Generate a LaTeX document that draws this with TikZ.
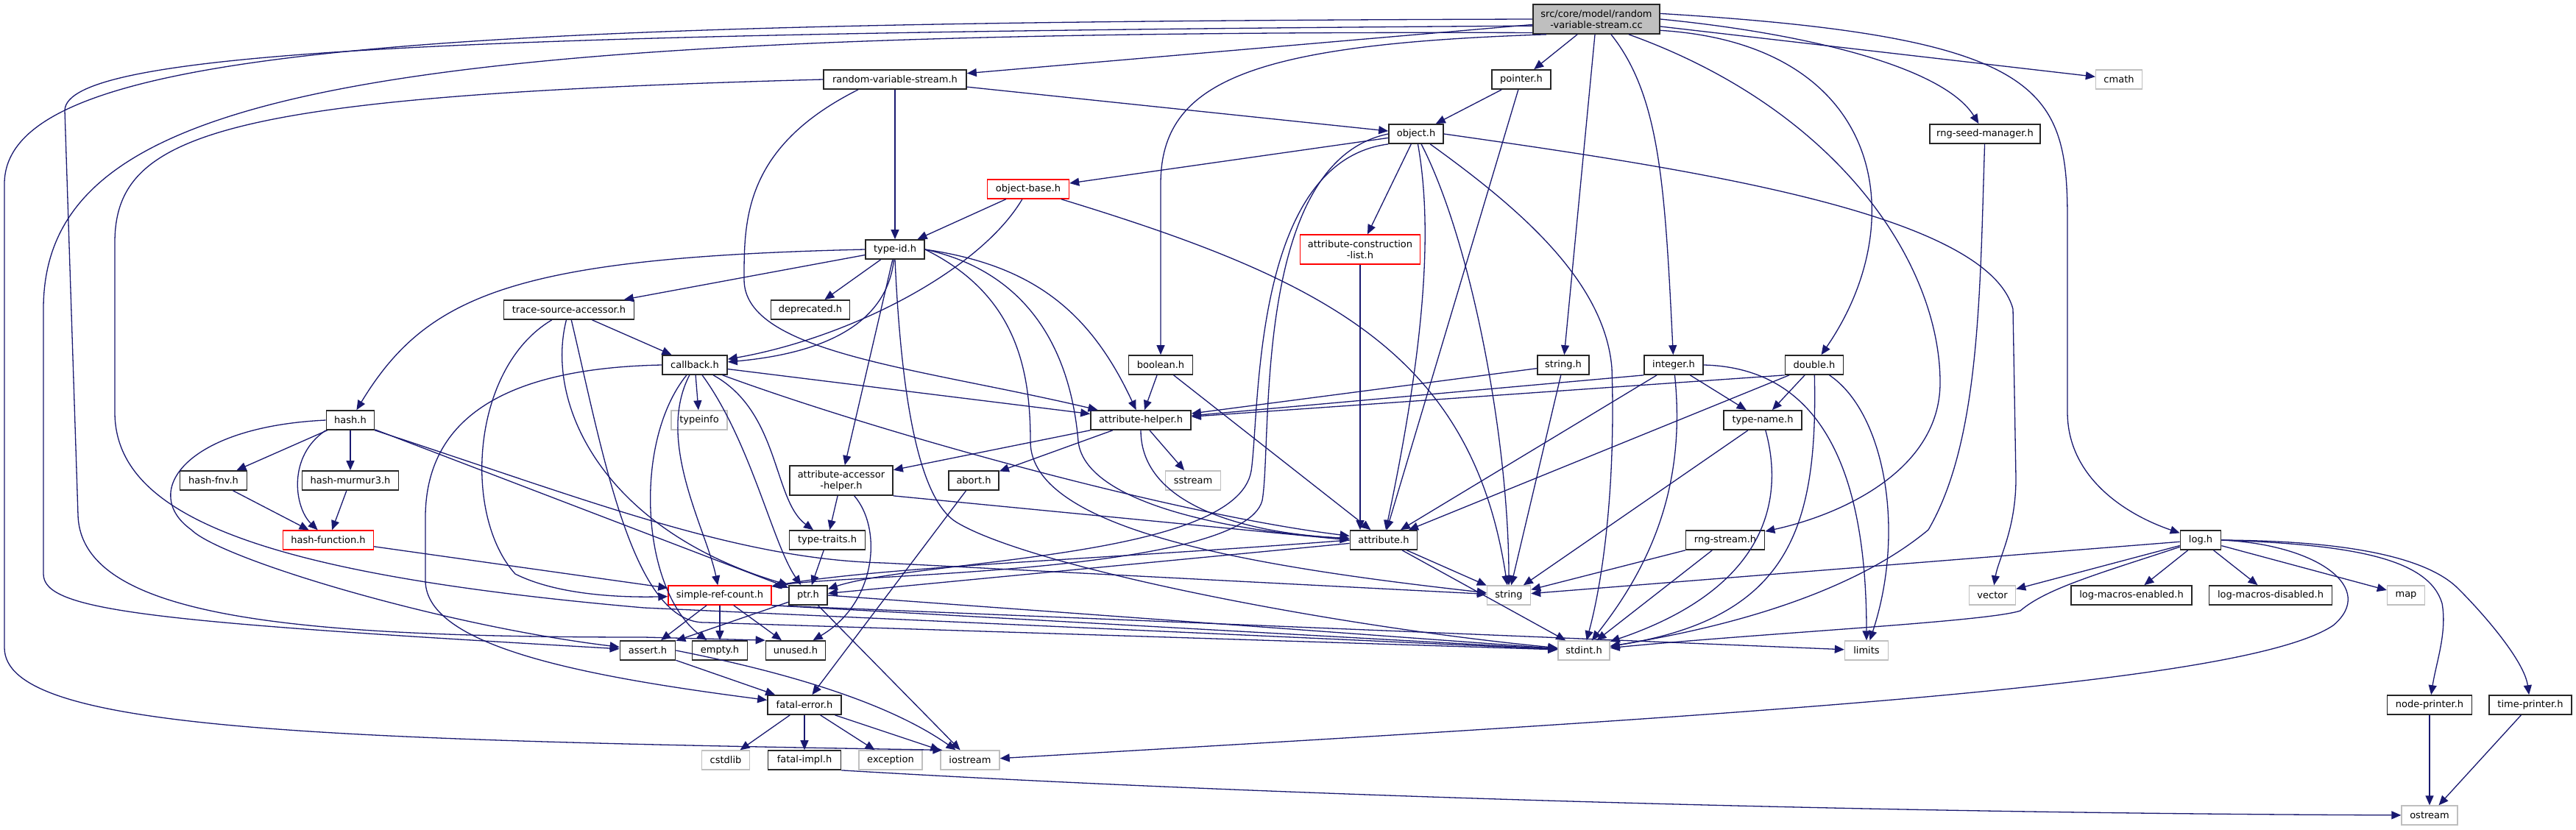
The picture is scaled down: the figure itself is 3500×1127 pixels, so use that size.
\documentclass[tikz,border=0pt]{standalone}
\usepackage{fontspec}
\setmainfont{DejaVu Sans}
\usetikzlibrary{arrows.meta,shapes}
\definecolor{EdgeBlue}{RGB}{25,25,112}
\definecolor{SysGray}{RGB}{191,191,191}
\definecolor{RootGray}{RGB}{191,191,191}
\definecolor{TruncRed}{RGB}{255,0,0}
\newcommand{\depfont}{\fontsize{13}{15}\selectfont}
\tikzset{
  hbox/.style={draw=black!85,fill=white,rectangle,minimum height=26pt,inner sep=0pt,
               font=\depfont,align=center,line width=1.7pt},
  sbox/.style={hbox,draw=SysGray,line width=1.4pt},
  rbox/.style={hbox,draw=TruncRed,line width=1.4pt},
  rootbox/.style={hbox,fill=RootGray,minimum height=40pt},
  incl/.style={-{Triangle[length=13pt,width=11pt]},EdgeBlue,line width=1.3pt},
}

\begin{document}
\begin{tikzpicture}[x=1pt,y=-1pt]
    \path[use as bounding box,fill=white] (0,0) rectangle (3500,1127);

    % Node definitions
    \node[rootbox, minimum width=172pt] (root) at (2169,26) {src/core/model/random\\-variable-stream.cc};
    \node[hbox, minimum width=194pt] (rvsh) at (1216,108) {random-variable-stream.h};
    \node[hbox, minimum width=80pt] (pointer) at (2067,108) {pointer.h};
    \node[sbox, minimum width=63pt] (cmath) at (2879,108) {cmath};
    \node[hbox, minimum width=74pt] (object) at (1924,182) {object.h};
    \node[hbox, minimum width=150pt] (rngseed) at (2697,182) {rng-seed-manager.h};
    \node[rbox, minimum width=111pt] (objbase) at (1397,257) {object-base.h};
    \node[rbox, minimum width=163pt, minimum height=40pt] (attrcons) at (1848,339) {attribute-construction\\-list.h};
    \node[hbox, minimum width=80pt] (typeid) at (1216,339) {type-id.h};
    \node[hbox, minimum width=177pt] (trace) at (773,421) {trace-source-accessor.h};
    \node[hbox, minimum width=107pt] (deprec) at (1101,421) {deprecated.h};
    \node[hbox, minimum width=88pt] (callback) at (944,496) {callback.h};
    \node[hbox, minimum width=87pt] (boolean) at (1577,496) {boolean.h};
    \node[hbox, minimum width=70pt] (stringh) at (2124,496) {string.h};
    \node[hbox, minimum width=80pt] (integer) at (2274,496) {integer.h};
    \node[hbox, minimum width=79pt] (double) at (2465,496) {double.h};
    \node[hbox, minimum width=65pt] (hash) at (476,571) {hash.h};
    \node[sbox, minimum width=76pt] (typeinfo) at (950,571) {typeinfo};
    \node[hbox, minimum width=136pt] (attrhelp) at (1550,571) {attribute-helper.h};
    \node[hbox, minimum width=106pt] (typename) at (2395,571) {type-name.h};
    \node[hbox, minimum width=91pt] (hashfnv) at (290,653) {hash-fnv.h};
    \node[hbox, minimum width=131pt] (murmur) at (476,653) {hash-murmur3.h};
    \node[hbox, minimum width=140pt, minimum height=40pt] (accessor) at (1143,653) {attribute-accessor\\-helper.h};
    \node[hbox, minimum width=68pt] (abort) at (1323,653) {abort.h};
    \node[sbox, minimum width=75pt] (sstream) at (1621,653) {sstream};
    \node[rbox, minimum width=123pt] (hashfunc) at (446,734) {hash-function.h};
    \node[hbox, minimum width=103pt] (typetraits) at (1124,734) {type-traits.h};
    \node[hbox, minimum width=91pt] (attribute) at (1880,734) {attribute.h};
    \node[hbox, minimum width=107pt] (rngstream) at (2344,734) {rng-stream.h};
    \node[hbox, minimum width=55pt] (log) at (2990,734) {log.h};
    \node[rbox, minimum width=140pt] (simpleref) at (978,809) {simple-ref-count.h};
    \node[hbox, minimum width=52pt] (ptr) at (1098,809) {ptr.h};
    \node[sbox, minimum width=59pt] (string) at (2050,809) {string};
    \node[sbox, minimum width=63pt] (vector) at (2707,809) {vector};
    \node[hbox, minimum width=164pt] (lme) at (2896,809) {log-macros-enabled.h};
    \node[hbox, minimum width=167pt] (lmd) at (3085,809) {log-macros-disabled.h};
    \node[sbox, minimum width=51pt] (map) at (3269,809) {map};
    \node[hbox, minimum width=75pt] (assert) at (880,884) {assert.h};
    \node[hbox, minimum width=75pt] (empty) at (978,884) {empty.h};
    \node[hbox, minimum width=81pt] (unused) at (1081,884) {unused.h};
    \node[sbox, minimum width=70pt] (stdint) at (2152,884) {stdint.h};
    \node[sbox, minimum width=59pt] (limits) at (2536,884) {limits};
    \node[hbox, minimum width=100pt] (fatalerr) at (1093,958) {fatal-error.h};
    \node[hbox, minimum width=115pt] (nodeprint) at (3301,958) {node-printer.h};
    \node[hbox, minimum width=112pt] (timeprint) at (3438,958) {time-printer.h};
    \node[sbox, minimum width=65pt] (cstdlib) at (986,1033) {cstdlib};
    \node[hbox, minimum width=99pt] (fatalimpl) at (1093,1033) {fatal-impl.h};
    \node[sbox, minimum width=86pt] (exception) at (1210,1033) {exception};
    \node[sbox, minimum width=80pt] (iostream) at (1318,1033) {iostream};
    \node[sbox, minimum width=76pt] (ostream) at (3301,1108) {ostream};

    % Edges: random-variable-stream.cc
    \draw[incl] (root) -- (rvsh);
    \draw[incl] (root) -- (pointer);
    \draw[incl] (root) -- (cmath);
    \draw[incl] (root.east) .. controls (2450,45) and (2640,90) .. (rngseed);
    \draw[incl] (root.197) .. controls (1700,60) and (1577,110) .. (1577,250) -- (boolean);
    \draw[incl] (root) -- (stringh);
    \draw[incl] ([xshift=20pt]root.south) .. controls (2255,130) and (2262,250) .. (integer);
    \draw[incl] (root.350) .. controls (2560,60) and (2600,300) .. (double);
    \draw[incl] (root.5) .. controls (2780,50) and (2809,120) .. (2809,300) -- (2809,560)
                .. controls (2809,650) and (2890,700) .. (log);
    \draw[incl] ([xshift=44pt]root.south) .. controls (2500,150) and (2636,360) .. (2636,520)
                .. controls (2636,640) and (2500,700) .. (rngstream);
    \draw[incl] (root.west) .. controls (600,30) and (6,60) .. (6,250) -- (6,880)
                .. controls (6,990) and (400,1005) .. (iostream.160);
    \draw[incl] (root.186) .. controls (600,45) and (90,70) .. (88,150) -- (106,700)
                .. controls (110,840) and (400,866) .. (875,866) -- (unused.north west);
    \draw[incl] (root.192) .. controls (500,40) and (59,120) .. (59,420) -- (59,780)
                .. controls (59,830) and (200,845) .. (assert);

    % Edges: random-variable-stream.h
    \draw[incl] (rvsh) -- (object);
    \draw[incl] (rvsh) -- (typeid);
    \draw[incl] ([xshift=-50pt]rvsh.south) .. controls (1010,200) and (1011,300) .. (1011,380)
                .. controls (1011,480) and (1250,500) .. (attrhelp);
    \draw[incl] (rvsh.west) .. controls (300,130) and (156,180) .. (156,330) -- (156,560)
                .. controls (156,700) and (350,780) .. (875,826) -- (stdint);

    % Edges: pointer.h, object.h, object-base.h
    \draw[incl] (pointer) -- (object);
    \draw[incl] (pointer) -- (attribute);
    \draw[incl] (object) -- (objbase);
    \draw[incl] (object) -- (attrcons);
    \draw[incl] (object) .. controls (1945,300) and (1940,450) .. (attribute);
    \draw[incl] (object) .. controls (2000,330) and (2050,600) .. (string);
    \draw[incl] (object) .. controls (2060,280) and (2180,380) .. (2190,500)
                .. controls (2195,650) and (2180,780) .. (stdint);
    \draw[incl] (object.east) .. controls (2300,230) and (2700,290) .. (2735,420) -- (2739,650)
                .. controls (2739,720) and (2715,760) .. (vector);
    \draw[incl] (object.south west) .. controls (1700,220) and (1712,560) .. (1700,640)
                .. controls (1680,760) and (1250,760) .. (ptr);
    \draw[incl] (object.west) .. controls (1700,220) and (1729,600) .. (1715,680)
                .. controls (1690,780) and (1150,780) .. (simpleref);
    \draw[incl] (objbase) -- (typeid);
    \draw[incl] (objbase) .. controls (1330,370) and (1150,460) .. (callback);
    \draw[incl] (objbase) .. controls (1800,380) and (2000,480) .. (string);
    \draw[incl] (attrcons.south) -- (attrcons.south |- attribute.north);

    % Edges: type-id.h
    \draw[incl] (typeid) -- (trace);
    \draw[incl] (typeid.west) .. controls (700,350) and (580,400) .. (hash);
    \draw[incl] (typeid) -- (deprec);
    \draw[incl] (typeid) .. controls (1205,440) and (1120,480) .. (callback);
    \draw[incl] (typeid) -- (accessor);
    \draw[incl] (typeid.east) .. controls (1400,360) and (1480,420) .. (attrhelp);
    \draw[incl] (typeid.east) .. controls (1400,370) and (1455,480) .. (1465,600)
                .. controls (1475,690) and (1700,725) .. (attribute);
    \draw[incl] (typeid.east) .. controls (1380,400) and (1400,500) .. (1400,600)
                .. controls (1400,720) and (1700,770) .. (string);
    \draw[incl] (typeid.south) .. controls (1225,550) and (1250,680) .. (1300,710)
                .. controls (1400,770) and (1800,850) .. (stdint);

    % Edges: trace-source-accessor.h, callback.h
    \draw[incl] (trace) -- (callback);
    \draw[incl] (trace) .. controls (640,500) and (628,700) .. (700,780)
                .. controls (760,810) and (850,812) .. (simpleref);
    \draw[incl] (trace) .. controls (740,550) and (820,720) .. (ptr.north west);
    \draw[incl] (trace) .. controls (820,620) and (860,850) .. (960,846) -- (stdint);
    \draw[incl] (callback) -- (typeinfo);
    \draw[incl] (callback) -- (attrhelp);
    \draw[incl] (callback) .. controls (1200,590) and (1600,700) .. (attribute);
    \draw[incl] (callback) .. controls (1060,560) and (1050,680) .. (typetraits);
    \draw[incl] (callback) .. controls (1020,600) and (1050,740) .. (ptr);
    \draw[incl] (callback) .. controls (890,600) and (960,720) .. (simpleref);
    \draw[incl] (callback) .. controls (860,600) and (870,800) .. (empty);
    \draw[incl] (callback.west) .. controls (700,500) and (580,560) .. (578,700) -- (578,790)
                .. controls (580,880) and (800,920) .. (fatalerr);

    % Edges: hash headers
    \draw[incl] (hash) -- (hashfnv);
    \draw[incl] (hash) -- (murmur);
    \draw[incl] (hash.south west) .. controls (390,620) and (400,690) .. (hashfunc);
    \draw[incl] (hash.west) .. controls (250,580) and (190,670) .. (260,720)
                .. controls (300,760) and (600,850) .. (assert);
    \draw[incl] (hash) -- (ptr);
    \draw[incl] (hash.south east) .. controls (800,680) and (1000,760) .. (1200,765) -- (string);
    \draw[incl] (hashfnv) -- (hashfunc);
    \draw[incl] (murmur) -- (hashfunc);
    \draw[incl] (hashfunc) -- (simpleref);

    % Edges: boolean.h, string.h, integer.h, double.h, type-name.h
    \draw[incl] (boolean) -- (attrhelp);
    \draw[incl] (boolean) -- (attribute);
    \draw[incl] (stringh) -- (attrhelp);
    \draw[incl] (stringh) -- (string);
    \draw[incl] (integer.south west) -- (attrhelp);
    \draw[incl] (integer) -- (attribute);
    \draw[incl] (integer) -- (typename);
    \draw[incl] (integer) .. controls (2290,650) and (2250,760) .. (stdint);
    \draw[incl] (integer.east) .. controls (2480,500) and (2536,650) .. (limits);
    \draw[incl] (double.south west) -- (attrhelp);
    \draw[incl] (double) -- (attribute);
    \draw[incl] (double) -- (typename);
    \draw[incl] (double) .. controls (2470,720) and (2430,840) .. (stdint);
    \draw[incl] (double) .. controls (2560,560) and (2590,720) .. (limits);
    \draw[incl] (typename) -- (string);
    \draw[incl] (typename) .. controls (2425,680) and (2400,800) .. (stdint);

    % Edges: attribute headers
    \draw[incl] (attrhelp) -- (accessor);
    \draw[incl] (attrhelp) -- (abort);
    \draw[incl] (attrhelp) -- (sstream);
    \draw[incl] (attrhelp) .. controls (1550,690) and (1700,725) .. (attribute);
    \draw[incl] (accessor) -- (typetraits);
    \draw[incl] (accessor.south east) -- (attribute.west);
    \draw[incl] (accessor) .. controls (1200,720) and (1190,820) .. (unused);
    \draw[incl] (abort) -- (fatalerr);
    \draw[incl] (typetraits) -- (ptr);
    \draw[incl] (attribute) -- (string);
    \draw[incl] (attribute) -- (stdint);
    \draw[incl] (attribute) -- (ptr);
    \draw[incl] (attribute.west) .. controls (1500,760) and (1200,770) .. (simpleref);

    % Edges: rng headers
    \draw[incl] (rngseed) .. controls (2690,400) and (2690,600) .. (2620,720)
                .. controls (2500,820) and (2300,860) .. (stdint);
    \draw[incl] (rngstream) -- (string);
    \draw[incl] (rngstream) -- (stdint);

    % Edges: log.h
    \draw[incl] (log) -- (string);
    \draw[incl] (log) -- (vector);
    \draw[incl] (log) .. controls (2850,780) and (2780,800) .. (2745,830)
                .. controls (2700,845) and (2400,860) .. (stdint);
    \draw[incl] (log) -- (lme);
    \draw[incl] (log) -- (lmd);
    \draw[incl] (log) -- (map);
    \draw[incl] (log.east) .. controls (3200,740) and (3300,760) .. (3318,820)
                .. controls (3325,860) and (3310,900) .. (nodeprint);
    \draw[incl] (log.east) .. controls (3200,735) and (3300,760) .. (3340,800)
                .. controls (3380,840) and (3430,900) .. (timeprint);
    \draw[incl] (log.east) .. controls (3150,740) and (3230,800) .. (3170,850)
                .. controls (3050,930) and (2400,970) .. (iostream);

    % Edges: simple-ref-count.h, ptr.h, assert.h
    \draw[incl] (simpleref) -- (assert);
    \draw[incl] (simpleref) -- (empty);
    \draw[incl] (simpleref) -- (unused);
    \draw[incl] (simpleref.south east) -- (stdint);
    \draw[incl] (simpleref.south east) -- (limits);
    \draw[incl] (ptr) -- (assert);
    \draw[incl] (ptr) -- (iostream);
    \draw[incl] (ptr.east) -- (stdint);
    \draw[incl] (assert) -- (fatalerr);
    \draw[incl] (assert.east) .. controls (1050,910) and (1200,950) .. (iostream);

    % Edges: fatal-error.h and printers
    \draw[incl] (fatalerr) -- (cstdlib);
    \draw[incl] (fatalerr) -- (fatalimpl);
    \draw[incl] (fatalerr) -- (exception);
    \draw[incl] (fatalerr) -- (iostream);
    \draw[incl] (fatalimpl.south east) .. controls (1700,1080) and (2500,1105) .. (ostream);
    \draw[incl] (nodeprint) -- (ostream);
    \draw[incl] (timeprint) -- (ostream);
\end{tikzpicture}
\end{document}
